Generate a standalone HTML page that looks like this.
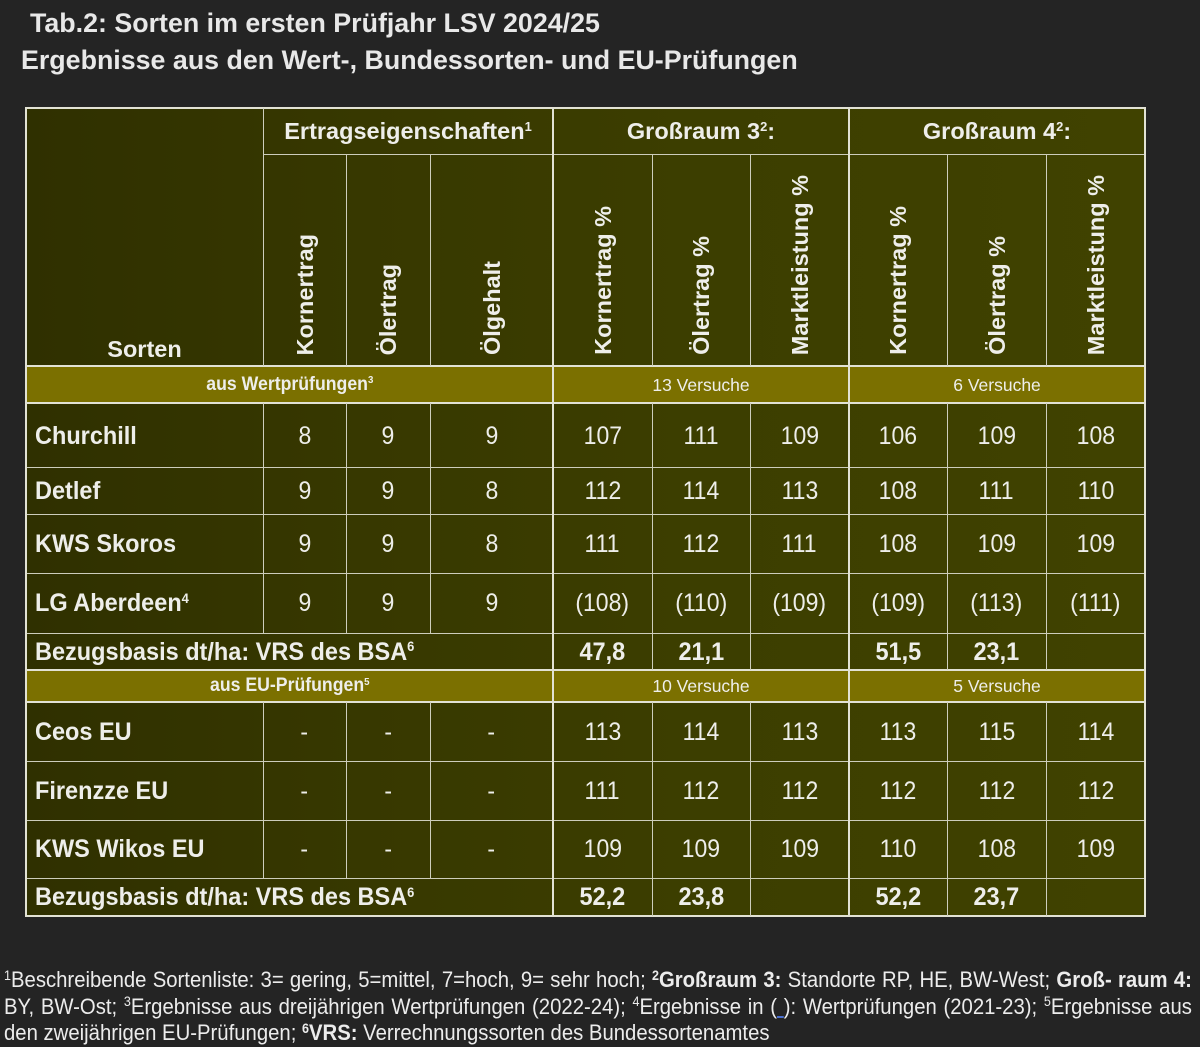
<!DOCTYPE html>
<html>
<head>
<meta charset="utf-8">
<style>
  html,body{margin:0;padding:0;}
  body{width:1200px;height:1045px;background:#242424;position:relative;overflow:hidden;
       font-family:"Liberation Sans",Arial,sans-serif;color:#eeeeea;}
  .title{position:absolute;font-weight:bold;font-size:26.8px;line-height:30px;white-space:nowrap;color:#e8e8e8;}
  .bg{position:absolute;left:26px;top:108px;width:1119px;height:808px;
      background:linear-gradient(90deg,#2f3000 0%,#373800 30%,#3c3e00 60%,#404200 100%);}
  .band{position:absolute;left:26px;width:1119px;background:#7b7000;}
  .h{position:absolute;height:1px;background:#cdcdbc;}
  .h2{position:absolute;height:2px;background:#e2e2d4;}
  .v{position:absolute;width:1px;background:#cdcdbc;}
  .v2{position:absolute;width:2px;background:#e2e2d4;}
  .t{position:absolute;display:flex;align-items:center;justify-content:center;white-space:nowrap;}
  .l{justify-content:flex-start;padding-left:9px;box-sizing:border-box;}
  .hd{font-weight:bold;font-size:23.5px;line-height:28px;}
  .rot{position:absolute;display:flex;justify-content:center;align-items:flex-end;top:154px;height:201px;}
  .rot span{writing-mode:vertical-rl;transform:rotate(180deg);font-weight:bold;font-size:23.5px;line-height:28px;white-space:nowrap;}
  .n{display:inline-block;font-size:25px;line-height:28px;transform:scaleX(0.92);}
  .b{display:inline-block;font-size:25px;line-height:28px;font-weight:bold;transform:scaleX(0.94);}
  .bl{display:inline-block;font-size:25px;line-height:28px;font-weight:bold;transform:scaleX(0.94);transform-origin:left center;}
  .s{font-size:0.55em;position:relative;top:-0.6em;line-height:0;}
  .fs{font-size:0.62em;position:relative;top:-0.55em;line-height:0;}
  .sb{font-weight:bold;font-size:19px;line-height:20px;display:inline-block;transform:scaleX(0.93);}
  .sn{font-size:17.5px;line-height:20px;}
  .foot{position:absolute;left:4px;top:967px;width:1287px;transform:scaleX(0.923);transform-origin:left top;
        font-size:22px;line-height:26.6px;color:#ececec;}
  .foot div{white-space:nowrap;}
  .j{text-align:justify;text-align-last:justify;white-space:normal !important;}
</style>
</head>
<body>

<div class="title" style="left:30px;top:8px;">Tab.2: Sorten im ersten Prüfjahr LSV 2024/25</div>
<div class="title" style="left:21px;top:45px;">Ergebnisse aus den Wert-, Bundessorten- und EU-Prüfungen</div>

<!-- table backgrounds -->
<div class="bg"></div>
<div class="band" style="top:366px;height:37px;"></div>
<div class="band" style="top:670px;height:32px;"></div>

<!-- horizontal lines -->
<div class="h2" style="left:25px;top:107px;width:1121px;"></div>
<div class="h" style="left:263px;top:154px;width:882px;"></div>
<div class="h2" style="left:26px;top:365px;width:1119px;"></div>
<div class="h2" style="left:26px;top:402px;width:1119px;"></div>
<div class="h" style="left:26px;top:467px;width:1119px;"></div>
<div class="h" style="left:26px;top:514px;width:1119px;"></div>
<div class="h" style="left:26px;top:573px;width:1119px;"></div>
<div class="h" style="left:26px;top:633px;width:1119px;"></div>
<div class="h2" style="left:26px;top:669px;width:1119px;"></div>
<div class="h2" style="left:26px;top:701px;width:1119px;"></div>
<div class="h" style="left:26px;top:761px;width:1119px;"></div>
<div class="h" style="left:26px;top:820px;width:1119px;"></div>
<div class="h" style="left:26px;top:878px;width:1119px;"></div>
<div class="h2" style="left:25px;top:915px;width:1121px;"></div>

<!-- vertical lines -->
<div class="v2" style="left:25px;top:107px;height:810px;"></div>
<div class="v2" style="left:1144px;top:107px;height:810px;"></div>
<div class="v2" style="left:552px;top:108px;height:808px;"></div>
<div class="v2" style="left:848px;top:108px;height:808px;"></div>

<div class="v" style="left:263px;top:108px;height:258px;"></div>
<div class="v" style="left:263px;top:403px;height:230px;"></div>
<div class="v" style="left:263px;top:702px;height:176px;"></div>

<div class="v" style="left:346px;top:154px;height:212px;"></div>
<div class="v" style="left:346px;top:403px;height:230px;"></div>
<div class="v" style="left:346px;top:702px;height:176px;"></div>
<div class="v" style="left:430px;top:154px;height:212px;"></div>
<div class="v" style="left:430px;top:403px;height:230px;"></div>
<div class="v" style="left:430px;top:702px;height:176px;"></div>

<div class="v" style="left:652px;top:154px;height:212px;"></div>
<div class="v" style="left:652px;top:403px;height:267px;"></div>
<div class="v" style="left:652px;top:702px;height:214px;"></div>
<div class="v" style="left:750px;top:154px;height:212px;"></div>
<div class="v" style="left:750px;top:403px;height:267px;"></div>
<div class="v" style="left:750px;top:702px;height:214px;"></div>
<div class="v" style="left:947px;top:154px;height:212px;"></div>
<div class="v" style="left:947px;top:403px;height:267px;"></div>
<div class="v" style="left:947px;top:702px;height:214px;"></div>
<div class="v" style="left:1046px;top:154px;height:212px;"></div>
<div class="v" style="left:1046px;top:403px;height:267px;"></div>
<div class="v" style="left:1046px;top:702px;height:214px;"></div>

<!-- header row 1 -->
<div class="t" style="left:263px;top:108px;width:290px;height:46px;"><span class="hd">Ertragseigenschaften<span class="s">1</span></span></div>
<div class="t" style="left:553px;top:108px;width:296px;height:46px;"><span class="hd">Großraum 3<span class="s">2</span>:</span></div>
<div class="t" style="left:849px;top:108px;width:296px;height:46px;"><span class="hd">Großraum 4<span class="s">2</span>:</span></div>

<!-- Sorten -->
<div class="t" style="left:26px;top:335px;width:237px;height:28px;"><span class="hd">Sorten</span></div>

<!-- rotated headers -->
<div class="rot" style="left:263px;width:83px;"><span>Kornertrag</span></div>
<div class="rot" style="left:346px;width:84px;"><span>Ölertrag</span></div>
<div class="rot" style="left:430px;width:123px;"><span>Ölgehalt</span></div>
<div class="rot" style="left:553px;width:99px;"><span>Kornertrag %</span></div>
<div class="rot" style="left:652px;width:98px;"><span>Ölertrag %</span></div>
<div class="rot" style="left:750px;width:99px;"><span>Marktleistung %</span></div>
<div class="rot" style="left:849px;width:98px;"><span>Kornertrag %</span></div>
<div class="rot" style="left:947px;width:99px;"><span>Ölertrag %</span></div>
<div class="rot" style="left:1046px;width:99px;"><span>Marktleistung %</span></div>

<!-- band 1 -->
<div class="t" style="left:26px;top:366px;width:527px;height:37px;"><span class="sb">aus Wertprüfungen<span class="s">3</span></span></div>
<div class="t" style="left:553px;top:366px;width:296px;height:37px;"><span class="sn">13 Versuche</span></div>
<div class="t" style="left:849px;top:366px;width:296px;height:37px;"><span class="sn">6 Versuche</span></div>

<!-- Churchill 403-468 -->
<div class="t l" style="left:26px;top:403px;width:237px;height:65px;"><span class="bl">Churchill</span></div>
<div class="t" style="left:263px;top:403px;width:83px;height:65px;"><span class="n">8</span></div>
<div class="t" style="left:346px;top:403px;width:84px;height:65px;"><span class="n">9</span></div>
<div class="t" style="left:430px;top:403px;width:123px;height:65px;"><span class="n">9</span></div>
<div class="t" style="left:553px;top:403px;width:99px;height:65px;"><span class="n">107</span></div>
<div class="t" style="left:652px;top:403px;width:98px;height:65px;"><span class="n">111</span></div>
<div class="t" style="left:750px;top:403px;width:99px;height:65px;"><span class="n">109</span></div>
<div class="t" style="left:849px;top:403px;width:98px;height:65px;"><span class="n">106</span></div>
<div class="t" style="left:947px;top:403px;width:99px;height:65px;"><span class="n">109</span></div>
<div class="t" style="left:1046px;top:403px;width:99px;height:65px;"><span class="n">108</span></div>

<!-- Detlef 468-514 -->
<div class="t l" style="left:26px;top:468px;width:237px;height:46px;"><span class="bl">Detlef</span></div>
<div class="t" style="left:263px;top:468px;width:83px;height:46px;"><span class="n">9</span></div>
<div class="t" style="left:346px;top:468px;width:84px;height:46px;"><span class="n">9</span></div>
<div class="t" style="left:430px;top:468px;width:123px;height:46px;"><span class="n">8</span></div>
<div class="t" style="left:553px;top:468px;width:99px;height:46px;"><span class="n">112</span></div>
<div class="t" style="left:652px;top:468px;width:98px;height:46px;"><span class="n">114</span></div>
<div class="t" style="left:750px;top:468px;width:99px;height:46px;"><span class="n">113</span></div>
<div class="t" style="left:849px;top:468px;width:98px;height:46px;"><span class="n">108</span></div>
<div class="t" style="left:947px;top:468px;width:99px;height:46px;"><span class="n">111</span></div>
<div class="t" style="left:1046px;top:468px;width:99px;height:46px;"><span class="n">110</span></div>

<!-- KWS Skoros 514-573 -->
<div class="t l" style="left:26px;top:514px;width:237px;height:59px;"><span class="bl">KWS Skoros</span></div>
<div class="t" style="left:263px;top:514px;width:83px;height:59px;"><span class="n">9</span></div>
<div class="t" style="left:346px;top:514px;width:84px;height:59px;"><span class="n">9</span></div>
<div class="t" style="left:430px;top:514px;width:123px;height:59px;"><span class="n">8</span></div>
<div class="t" style="left:553px;top:514px;width:99px;height:59px;"><span class="n">111</span></div>
<div class="t" style="left:652px;top:514px;width:98px;height:59px;"><span class="n">112</span></div>
<div class="t" style="left:750px;top:514px;width:99px;height:59px;"><span class="n">111</span></div>
<div class="t" style="left:849px;top:514px;width:98px;height:59px;"><span class="n">108</span></div>
<div class="t" style="left:947px;top:514px;width:99px;height:59px;"><span class="n">109</span></div>
<div class="t" style="left:1046px;top:514px;width:99px;height:59px;"><span class="n">109</span></div>

<!-- LG Aberdeen 573-633 -->
<div class="t l" style="left:26px;top:573px;width:237px;height:60px;"><span class="bl">LG Aberdeen<span class="s">4</span></span></div>
<div class="t" style="left:263px;top:573px;width:83px;height:60px;"><span class="n">9</span></div>
<div class="t" style="left:346px;top:573px;width:84px;height:60px;"><span class="n">9</span></div>
<div class="t" style="left:430px;top:573px;width:123px;height:60px;"><span class="n">9</span></div>
<div class="t" style="left:553px;top:573px;width:99px;height:60px;"><span class="n">(108)</span></div>
<div class="t" style="left:652px;top:573px;width:98px;height:60px;"><span class="n">(110)</span></div>
<div class="t" style="left:750px;top:573px;width:99px;height:60px;"><span class="n">(109)</span></div>
<div class="t" style="left:849px;top:573px;width:98px;height:60px;"><span class="n">(109)</span></div>
<div class="t" style="left:947px;top:573px;width:99px;height:60px;"><span class="n">(113)</span></div>
<div class="t" style="left:1046px;top:573px;width:99px;height:60px;"><span class="n">(111)</span></div>

<!-- Bezugsbasis 633-670 -->
<div class="t l" style="left:26px;top:633px;width:527px;height:37px;"><span class="bl">Bezugsbasis dt/ha: VRS des BSA<span class="s">6</span></span></div>
<div class="t" style="left:553px;top:633px;width:99px;height:37px;"><span class="b">47,8</span></div>
<div class="t" style="left:652px;top:633px;width:98px;height:37px;"><span class="b">21,1</span></div>
<div class="t" style="left:849px;top:633px;width:98px;height:37px;"><span class="b">51,5</span></div>
<div class="t" style="left:947px;top:633px;width:99px;height:37px;"><span class="b">23,1</span></div>

<!-- band 2 -->
<div class="t" style="left:26px;top:670px;width:527px;height:32px;"><span class="sb">aus EU-Prüfungen<span class="s">5</span></span></div>
<div class="t" style="left:553px;top:670px;width:296px;height:32px;"><span class="sn">10 Versuche</span></div>
<div class="t" style="left:849px;top:670px;width:296px;height:32px;"><span class="sn">5 Versuche</span></div>

<!-- Ceos EU 702-761 -->
<div class="t l" style="left:26px;top:702px;width:237px;height:59px;"><span class="bl">Ceos EU</span></div>
<div class="t" style="left:263px;top:702px;width:83px;height:59px;"><span class="n">-</span></div>
<div class="t" style="left:346px;top:702px;width:84px;height:59px;"><span class="n">-</span></div>
<div class="t" style="left:430px;top:702px;width:123px;height:59px;"><span class="n">-</span></div>
<div class="t" style="left:553px;top:702px;width:99px;height:59px;"><span class="n">113</span></div>
<div class="t" style="left:652px;top:702px;width:98px;height:59px;"><span class="n">114</span></div>
<div class="t" style="left:750px;top:702px;width:99px;height:59px;"><span class="n">113</span></div>
<div class="t" style="left:849px;top:702px;width:98px;height:59px;"><span class="n">113</span></div>
<div class="t" style="left:947px;top:702px;width:99px;height:59px;"><span class="n">115</span></div>
<div class="t" style="left:1046px;top:702px;width:99px;height:59px;"><span class="n">114</span></div>

<!-- Firenzze EU 761-820 -->
<div class="t l" style="left:26px;top:761px;width:237px;height:59px;"><span class="bl">Firenzze EU</span></div>
<div class="t" style="left:263px;top:761px;width:83px;height:59px;"><span class="n">-</span></div>
<div class="t" style="left:346px;top:761px;width:84px;height:59px;"><span class="n">-</span></div>
<div class="t" style="left:430px;top:761px;width:123px;height:59px;"><span class="n">-</span></div>
<div class="t" style="left:553px;top:761px;width:99px;height:59px;"><span class="n">111</span></div>
<div class="t" style="left:652px;top:761px;width:98px;height:59px;"><span class="n">112</span></div>
<div class="t" style="left:750px;top:761px;width:99px;height:59px;"><span class="n">112</span></div>
<div class="t" style="left:849px;top:761px;width:98px;height:59px;"><span class="n">112</span></div>
<div class="t" style="left:947px;top:761px;width:99px;height:59px;"><span class="n">112</span></div>
<div class="t" style="left:1046px;top:761px;width:99px;height:59px;"><span class="n">112</span></div>

<!-- KWS Wikos EU 820-878 -->
<div class="t l" style="left:26px;top:820px;width:237px;height:58px;"><span class="bl">KWS Wikos EU</span></div>
<div class="t" style="left:263px;top:820px;width:83px;height:58px;"><span class="n">-</span></div>
<div class="t" style="left:346px;top:820px;width:84px;height:58px;"><span class="n">-</span></div>
<div class="t" style="left:430px;top:820px;width:123px;height:58px;"><span class="n">-</span></div>
<div class="t" style="left:553px;top:820px;width:99px;height:58px;"><span class="n">109</span></div>
<div class="t" style="left:652px;top:820px;width:98px;height:58px;"><span class="n">109</span></div>
<div class="t" style="left:750px;top:820px;width:99px;height:58px;"><span class="n">109</span></div>
<div class="t" style="left:849px;top:820px;width:98px;height:58px;"><span class="n">110</span></div>
<div class="t" style="left:947px;top:820px;width:99px;height:58px;"><span class="n">108</span></div>
<div class="t" style="left:1046px;top:820px;width:99px;height:58px;"><span class="n">109</span></div>

<!-- Bezugsbasis 878-916 -->
<div class="t l" style="left:26px;top:878px;width:527px;height:38px;"><span class="bl">Bezugsbasis dt/ha: VRS des BSA<span class="s">6</span></span></div>
<div class="t" style="left:553px;top:878px;width:99px;height:38px;"><span class="b">52,2</span></div>
<div class="t" style="left:652px;top:878px;width:98px;height:38px;"><span class="b">23,8</span></div>
<div class="t" style="left:849px;top:878px;width:98px;height:38px;"><span class="b">52,2</span></div>
<div class="t" style="left:947px;top:878px;width:99px;height:38px;"><span class="b">23,7</span></div>

<!-- footnote -->
<div class="foot">
  <div class="j"><span class="fs">1</span>Beschreibende Sortenliste: 3= gering, 5=mittel, 7=hoch, 9= sehr hoch; <b><span class="fs">2</span>Großraum 3:</b> Standorte RP, HE, BW-West; <b>Groß- raum 4:</b></div>
  <div class="j">BY, BW-Ost; <span class="fs">3</span>Ergebnisse aus dreijährigen Wertprüfungen (2022-24); <span class="fs">4</span>Ergebnisse in (<span style="text-decoration:underline;text-decoration-color:#4a6fd0;">&nbsp;</span>): Wertprüfungen (2021-23); <span class="fs">5</span>Ergebnisse aus</div>
  <div>den zweijährigen EU-Prüfungen; <b><span class="fs">6</span>VRS:</b> Verrechnungssorten des Bundessortenamtes</div>
</div>

</body>
</html>
